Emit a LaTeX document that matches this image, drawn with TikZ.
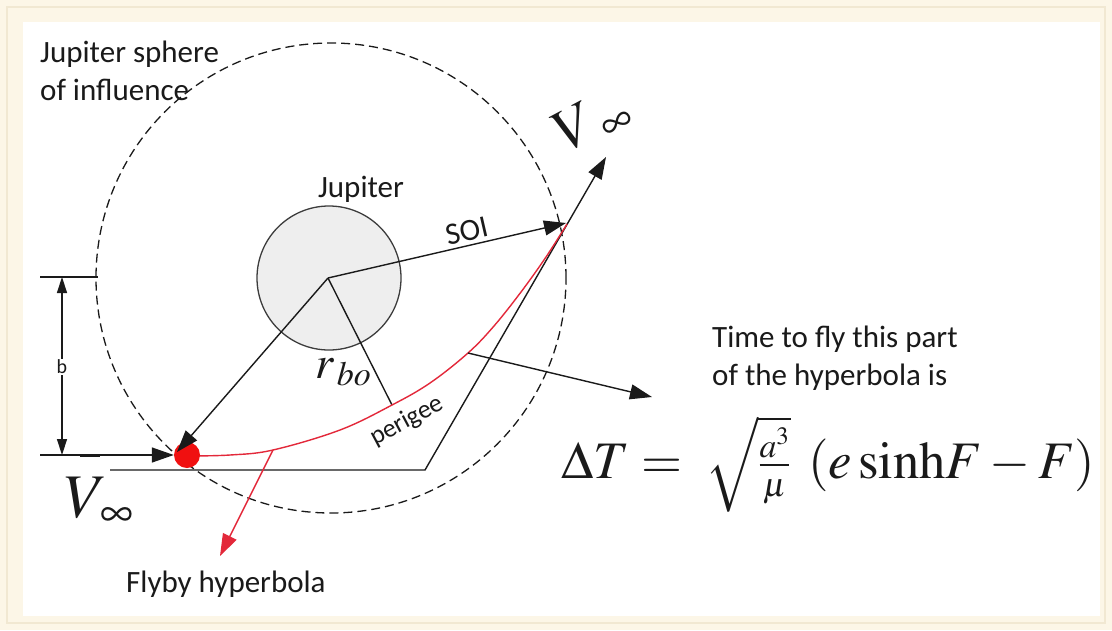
\documentclass[tikz,border=0pt]{standalone}
\usepackage{graphicx}
\usepackage{mathptmx}
\usepackage[no-math]{fontspec}
\setmainfont{Carlito}
\usetikzlibrary{arrows.meta}
\definecolor{cream}{HTML}{FCF6E7}
\definecolor{framec}{HTML}{F1E8D2}
\definecolor{ink}{HTML}{1A1A1A}
\definecolor{jupfill}{HTML}{EEEEEE}
\definecolor{orbit}{HTML}{E3283A}
\definecolor{dotred}{HTML}{F01010}
\newcommand\fracpart[1]{\hbox{\fontsize{32}{32}\selectfont$#1$}}
\begin{document}
\begin{tikzpicture}[x=1pt,y=-1pt,
  ln/.style={draw=ink,line width=1.4pt},
  arr/.style={ln,-{Triangle[length=22pt,width=15pt]}},
  dimarr/.style={ln,{Triangle[length=16pt,width=10pt]}-{Triangle[length=16pt,width=10pt]}},
  lbl/.style={font=\fontsize{31}{37}\selectfont,text=ink,inner sep=0pt},
  mathlbl/.style={text=ink,inner sep=0pt},
  redln/.style={draw=orbit,line width=1.4pt}]
\useasboundingbox (0,0) rectangle (1112,630);
\fill[cream] (0,0) rectangle (1112,630);
\draw[framec,line width=1.5pt] (7,7) rectangle (1105,623);
\fill[white] (23,22) rectangle (1100,616);

% sphere of influence and Jupiter
\node[circle,draw=ink,line width=1.3pt,dash pattern=on 9pt off 5pt,minimum size=470pt,inner sep=0pt] (soi) at (331,278) {};
\node[circle,draw=ink!85,fill=jupfill,line width=1.3pt,minimum size=144pt,inner sep=0pt] (jup) at (329,278) {};

% key points
\coordinate (C) at (328,278);
\coordinate (S) at (566,223);
\coordinate (Vtip) at (606,157);
\coordinate (K) at (425,470);
\coordinate (L) at (110,470);
\coordinate (P) at (392,405);
\coordinate (H1) at (273,450);
\coordinate (H2) at (468,353);
\coordinate (FT) at (220,556);
\coordinate (TT) at (652,397);
\coordinate (Rtip) at (177,452);
\coordinate (A0) at (40,455);
\coordinate (B0) at (40,277);
\coordinate (B1) at (98,277);
\coordinate (bt) at (62,277);
\coordinate (bb) at (62,455);

% SOI radius, perigee radius, asymptotes
\draw[arr] (C) -- (S);
\draw[ln] (C) -- (P);
\draw[arr] (L) -- (K) -- (Vtip);

% impact parameter b
\draw[ln] (B0) -- (B1);
\draw[dimarr] (bt) -- (bb);
\node[font=\fontsize{20}{24}\selectfont,text=ink,fill=white,inner sep=1pt] (blbl) at (62,367) {b};

% flyby hyperbola
\draw[redln] plot[smooth,tension=0.6] coordinates {(187,456) (230,455) (273,450) (340,430) (392,405) (430,383) (468,353) (494,326) (521,292) (546,257) (567,224)};
\draw[redln,-{Triangle[length=22pt,width=15pt]},fill=red] (H1) -- (FT);

% spacecraft
\node[circle,fill=dotred,minimum size=26pt,inner sep=0pt] (sc) at (187,455) {};
\draw[arr] (A0) -- (sc.west);
\draw[draw=ink,line width=3pt] (80,455) -- (100,455);
\draw[arr] (C) -- (Rtip);

% time arrow
\draw[arr] (H2) -- (TT);

% labels
\node[lbl,anchor=base west] (t1) at (40,62) {Jupiter sphere};
\node[lbl,anchor=base west] (t2) at (40,100) {of influence};
\node[lbl,anchor=base] (tj) at (361,197) {Jupiter};
\node[lbl,rotate=13] (tsoi) at (467,231) {SOI};
\node[font=\fontsize{26}{30}\selectfont,text=ink,inner sep=0pt,rotate=28] (tper) at (407,421) {perigee};
\node[mathlbl,anchor=base west,font=\fontsize{46}{52}\selectfont] (trbo) at (315,378) {$r_{\,bo}$};
\node[lbl,anchor=base west] (tt1) at (712,347) {Time to fly this part};
\node[lbl,anchor=base west] (tt2) at (712,385) {of the hyperbola is};
\node[lbl,anchor=base west] (tfly) at (126,592) {Flyby hyperbola};
\node[mathlbl,anchor=base west,font=\fontsize{62}{70}\selectfont] (vin) at (64,517) {$V_{\,\infty}$};
\node[mathlbl,anchor=base west,rotate=28,font=\fontsize{60}{70}\selectfont] (vout) at (566,153) {$V_{\hspace{12pt}\infty}$};
\node[mathlbl,anchor=base west] (dT) at (561,478) {\resizebox{534pt}{!}{\fontsize{50}{60}\selectfont$\Delta T =\;\sqrt{\frac{\fracpart{a^{3}}}{\fracpart{\mu}}\rule[-0.55em]{0pt}{1.45em}}\;\,(e\,\mathrm{sinh}F-F)$}};
\end{tikzpicture}
\end{document}
